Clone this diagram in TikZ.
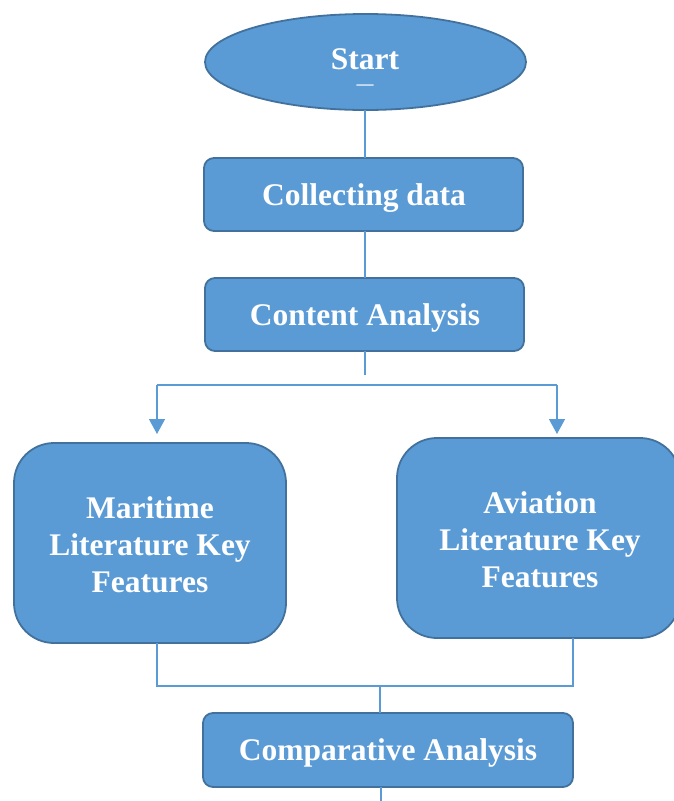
\documentclass[tikz,border=0pt]{standalone}
\usepackage{fontspec}
\setmainfont{Liberation Serif}
\usetikzlibrary{arrows.meta,shapes.geometric}
\definecolor{boxfill}{HTML}{5B9BD5}
\definecolor{boxedge}{HTML}{41719C}
\definecolor{linec}{HTML}{5B9BD5}
\begin{document}
\begin{tikzpicture}[x=1pt,y=-1pt,
  every node/.style={inner sep=0pt,outer sep=0pt},
  fbox/.style={draw=boxedge,line width=1.8pt,fill=boxfill,rounded corners=10pt},
  bigbox/.style={draw=boxedge,line width=1.8pt,fill=boxfill,rounded corners=40pt},
  lbl/.style={text=white,font=\fontsize{31.5}{37}\selectfont\bfseries,align=center},
  conn/.style={draw=linec,line width=1.4pt},
  arr/.style={conn,-{Triangle[width=16pt,length=15pt]}}]
\useasboundingbox (0,0) rectangle (674,801);
\clip (0,0) rectangle (674,801);
% Start
\node[ellipse,draw=boxedge,line width=1.8pt,fill=boxfill,minimum width=321pt,minimum height=96pt] (start) at (365.5,62) {};
\node[lbl,anchor=base,text depth=0pt] (starttxt) at (365,69) {Start};
\node[text=white,font=\fontsize{17}{17}\selectfont\bfseries,anchor=base,text height=6pt,text depth=0pt] (dash) at (365,89) {—};
% Collecting data
\node[fbox,minimum width=319pt,minimum height=73pt] (collect) at (363.5,194.5) {};
\node[lbl] at (364,198) {Collecting data};
% Content Analysis
\node[fbox,minimum width=319pt,minimum height=73pt] (content) at (364.5,314.5) {};
\node[lbl] at (365,318) {Content Analysis};
% Maritime
\node[bigbox,minimum width=272pt,minimum height=200pt] (mar) at (150,543) {};
\node[lbl] at (150,545) {Maritime\\Literature Key\\Features};
% Aviation
\node[bigbox,minimum width=283pt,minimum height=200pt] (avi) at (538.5,538) {};
\node[lbl] at (540,540) {Aviation\\Literature Key\\Features};
% Comparative
\node[fbox,minimum width=370pt,minimum height=74pt] (comp) at (388,750) {};
\node[lbl] at (388,753) {Comparative Analysis};
% coordinates
\coordinate (sx) at (365,0);
\coordinate (c1) at (365,375);
\coordinate (hl) at (157,385);
\coordinate (hr) at (557,385);
\coordinate (ml) at (157,686);
\coordinate (mr) at (573,686);
\coordinate (mj) at (380,686);
\coordinate (endb) at (381,801);
% connectors
\draw[conn] (start.south -| sx) -- (collect.north -| sx);
\draw[conn] (collect.south -| sx) -- (content.north -| sx);
\draw[conn] (content.south -| sx) -- (c1);
\draw[conn] (hl) -- (hr);
\draw[arr] (hl) -- (157,434);
\draw[arr] (hr) -- (557,434);
\draw[conn] (mar.south -| ml) -- (ml) -- (mr) -- (avi.south -| mr);
\draw[conn] (mj) -- (comp.north -| mj);
\draw[conn] (comp.south -| endb) -- (endb);
\end{tikzpicture}
\end{document}
